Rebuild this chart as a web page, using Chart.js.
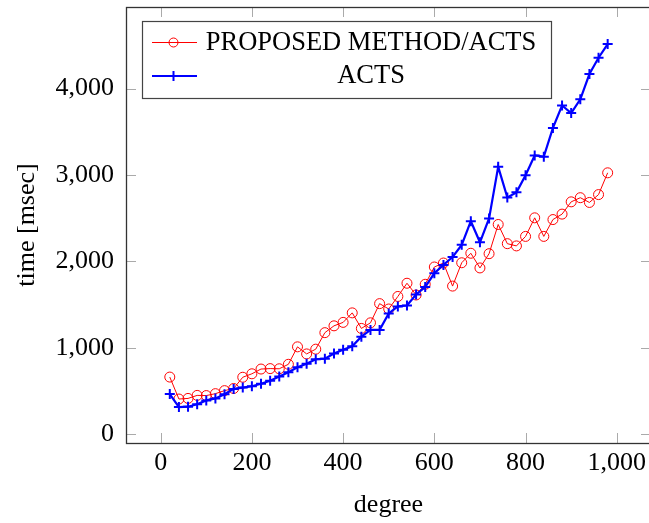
<!DOCTYPE html>
<html>
<head>
<meta charset="utf-8">
<title>time vs degree</title>
<script src="https://cdn.jsdelivr.net/npm/chart.js@4"></script>
<style>
  html, body { margin: 0; padding: 0; overflow: hidden; background: #ffffff; }
  canvas { display: block; }
</style>
</head>
<body>
<canvas id="chart" width="660" height="523"></canvas>
<script>
// Measured run times (msec) for each polynomial degree
const degrees = [20, 40, 60, 80, 100, 120, 140, 160, 180, 200,
                 220, 240, 260, 280, 300, 320, 340, 360, 380, 400,
                 420, 440, 460, 480, 500, 520, 540, 560, 580, 600,
                 620, 640, 660, 680, 700, 720, 740, 760, 780, 800,
                 820, 840, 860, 880, 900, 920, 940, 960, 980];

const proposedTimes = [662, 408, 415, 450, 448, 470, 505, 530, 660, 700,
                       755, 760, 758, 810, 1012, 930, 985, 1176, 1255, 1295,
                       1405, 1225, 1290, 1512, 1450, 1595, 1748, 1612, 1736, 1936,
                       1982, 1715, 1985, 2095, 1925, 2090, 2428, 2206, 2180, 2290,
                       2505, 2290, 2485, 2548, 2690, 2738, 2683, 2774, 3026];

const actsTimes = [466, 315, 319, 348, 392, 415, 463, 525, 540, 556,
                   584, 620, 668, 718, 776, 815, 868, 875, 935, 978,
                   1018, 1130, 1208, 1208, 1398, 1480, 1490, 1618, 1705, 1863,
                   1960, 2052, 2192, 2466, 2222, 2498, 3095, 2741, 2800, 2999,
                   3226, 3213, 3546, 3805, 3717, 3877, 4169, 4358, 4516];

const seriesLabels = ['PROPOSED METHOD/ACTS', 'ACTS'];
const xTickValues = [0, 200, 400, 600, 800, 1000];
const yTickValues = [0, 1000, 2000, 3000, 4000];

const SERIF = "'Liberation Serif', 'Times New Roman', serif";
const RED = '#ff0000';
const BLUE = '#0000ff';

const toPoints = (xs, ys) => xs.map((x, i) => ({ x: x, y: ys[i] }));
const fmt = v => Number(v).toLocaleString('en-US');

// Frame around the plot area plus short inward tick marks on all four sides
const framePlugin = {
  id: 'frame',
  beforeDatasetsDraw(chart) {
    const { ctx, chartArea: a, scales } = chart;
    const len = 10;
    ctx.save();
    ctx.strokeStyle = '#aaaaaa';
    ctx.lineWidth = 1;
    ctx.beginPath();
    xTickValues.forEach(v => {
      const px = Math.round(scales.x.getPixelForValue(v)) + 0.5;
      ctx.moveTo(px, a.bottom); ctx.lineTo(px, a.bottom - len);
      ctx.moveTo(px, a.top); ctx.lineTo(px, a.top + len);
    });
    yTickValues.forEach(v => {
      const py = Math.round(scales.y.getPixelForValue(v)) + 0.5;
      ctx.moveTo(a.left, py); ctx.lineTo(a.left + len, py);
      ctx.moveTo(a.right, py); ctx.lineTo(a.right - len, py);
    });
    ctx.stroke();
    ctx.restore();
  },
  afterDatasetsDraw(chart) {
    const { ctx, chartArea: a } = chart;
    ctx.save();
    ctx.strokeStyle = '#333333';
    ctx.lineWidth = 1.3;
    ctx.strokeRect(a.left + 0.5, a.top + 0.5, a.right - a.left, a.bottom - a.top);
    ctx.restore();
  }
};

// Boxed legend with the label column centred
const legendPlugin = {
  id: 'boxLegend',
  afterDraw(chart) {
    const ctx = chart.ctx;
    const box = { x: 142.5, y: 21.5, w: 409, h: 77 };
    const sampleX0 = 152, sampleX1 = 197, markX = 173.5, textX = 371;
    const rows = [
      { y: 42.5, base: 50, ds: chart.data.datasets[0] },
      { y: 76, base: 82.7, ds: chart.data.datasets[1] }
    ];
    ctx.save();
    ctx.fillStyle = '#ffffff';
    ctx.fillRect(box.x, box.y, box.w, box.h);
    ctx.strokeStyle = '#444444';
    ctx.lineWidth = 1.2;
    ctx.strokeRect(box.x, box.y, box.w, box.h);

    rows.forEach(r => {
      const ds = r.ds;
      ctx.strokeStyle = ds.borderColor;
      ctx.lineWidth = ds.borderWidth;
      ctx.beginPath();
      ctx.moveTo(sampleX0, r.y); ctx.lineTo(sampleX1, r.y);
      ctx.stroke();
      ctx.lineWidth = ds.pointBorderWidth;
      ctx.beginPath();
      if (ds.pointStyle === 'circle') {
        ctx.arc(markX, r.y, 4.5, 0, Math.PI * 2);
      } else {
        ctx.moveTo(markX - 5, r.y); ctx.lineTo(markX + 5, r.y);
        ctx.moveTo(markX, r.y - 5); ctx.lineTo(markX, r.y + 5);
      }
      ctx.stroke();

      ctx.fillStyle = '#000000';
      ctx.font = '26.5px ' + SERIF;
      ctx.textAlign = 'center';
      ctx.textBaseline = 'alphabetic';
      ctx.fillText(ds.label, textX, r.base);
    });
    ctx.restore();
  }
};

new Chart(document.getElementById('chart'), {
  type: 'line',
  data: {
    datasets: [
      {
        label: seriesLabels[0],
        data: toPoints(degrees, proposedTimes),
        borderColor: RED,
        borderWidth: 1,
        pointStyle: 'circle',
        pointRadius: 5,
        pointBorderWidth: 1,
        pointBorderColor: RED,
        pointBackgroundColor: 'rgba(0,0,0,0)',
        tension: 0,
        order: 1
      },
      {
        label: seriesLabels[1],
        data: toPoints(degrees, actsTimes),
        borderColor: BLUE,
        borderWidth: 2.2,
        pointStyle: 'cross',
        pointRadius: 5,
        pointBorderWidth: 2,
        pointBorderColor: BLUE,
        pointBackgroundColor: BLUE,
        tension: 0,
        order: 0
      }
    ]
  },
  options: {
    responsive: false,
    animation: false,
    events: [],
    layout: { padding: { top: 7, right: 9, left: 0, bottom: 0 } },
    plugins: {
      legend: { display: false },
      tooltip: { enabled: false }
    },
    scales: {
      x: {
        type: 'linear',
        min: -76,
        max: 1075,
        grid: { display: false, drawTicks: false },
        border: { display: false },
        afterBuildTicks: s => { s.ticks = xTickValues.map(v => ({ value: v })); },
        afterFit: s => { s.height = 80; s.paddingLeft = 0; s.paddingRight = 0; },
        ticks: {
          padding: 5,
          color: '#000000',
          font: { family: SERIF, size: 26, lineHeight: 1.2 },
          maxRotation: 0,
          autoSkip: false,
          callback: v => fmt(v)
        },
        title: {
          display: true,
          text: 'degree',
          color: '#000000',
          font: { family: SERIF, size: 26, lineHeight: 1.2 },
          padding: { top: 0, bottom: 2 }
        }
      },
      y: {
        type: 'linear',
        min: -101,
        max: 4945,
        grid: { display: false, drawTicks: false },
        border: { display: false },
        afterBuildTicks: s => { s.ticks = yTickValues.map(v => ({ value: v })); },
        afterFit: s => { s.width = 126; s.paddingTop = 0; s.paddingBottom = 0; },
        ticks: {
          padding: 12,
          color: '#000000',
          font: { family: SERIF, size: 26, lineHeight: 1.2 },
          autoSkip: false,
          callback: v => fmt(v)
        },
        title: {
          display: true,
          text: 'time [msec]',
          color: '#000000',
          font: { family: SERIF, size: 26, lineHeight: 1.2 },
          padding: { top: 12, bottom: 0 }
        }
      }
    }
  },
  plugins: [framePlugin, legendPlugin]
});
</script>
</body>
</html>
